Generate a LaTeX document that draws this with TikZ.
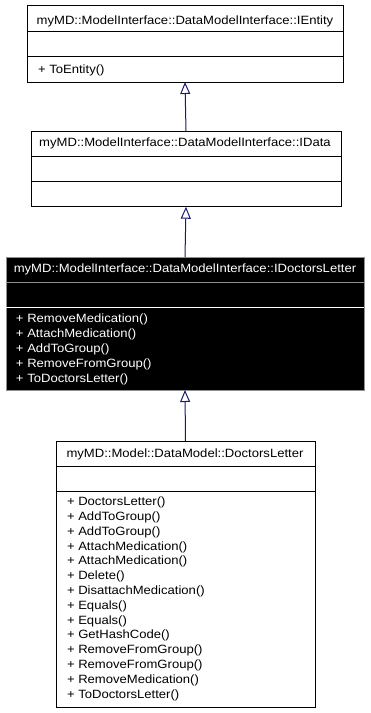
\documentclass[tikz,border=0pt]{standalone}
\usepackage{fontspec}
\newfontfamily\umlfont{Liberation Sans}[FakeStretch=1.09]
\usetikzlibrary{arrows.meta}
\definecolor{edgeblue}{HTML}{191970}
\definecolor{framegray}{HTML}{909090}
\begin{document}
\begin{tikzpicture}[x=1pt,y=-1pt,
  every node/.style={inner sep=0pt, outer sep=0pt},
  classbox/.style={draw=black, line width=1pt, fill=white, anchor=north west},
  activebox/.style={draw=framegray, line width=1pt, fill=black, anchor=north west},
  title/.style={anchor=base, font=\umlfont\fontsize{12}{14.8}\selectfont},
  ops/.style={anchor=base west, align=left, font=\umlfont\fontsize{12}{14.8}\selectfont},
  divider/.style={line width=1pt},
  inherit/.style={draw=edgeblue, line width=1pt,
    -{Triangle[open, length=12pt, width=10pt, fill=white]}}]
\useasboundingbox (0,0) rectangle (371,713);

% IEntity
\node[classbox, minimum width=316pt, minimum height=77pt] (e) at (27,5) {};
\draw[divider] (27,31.7) -- (343,31.7);
\draw[divider] (27,56.7) -- (343,56.7);
\node[title] (et) at (185,24.5) {myMD::ModelInterface::DataModelInterface::IEntity};
\node[ops] (eo) at (38,73.5) {+ ToEntity()};

% IData
\node[classbox, minimum width=310pt, minimum height=75pt] (d) at (31,131.7) {};
\draw[divider] (31,156.7) -- (341,156.7);
\draw[divider] (31,181.7) -- (341,181.7);
\node[title] (dt) at (185,146.5) {myMD::ModelInterface::DataModelInterface::IData};

% IDoctorsLetter
\node[activebox, minimum width=358pt, minimum height=133pt] (l) at (6,257) {};
\draw[divider, framegray] (6,282.3) -- (364,282.3);
\draw[divider, white] (6,307.3) -- (364,307.3);
\node[title, text=white] (lt) at (185,272.7) {myMD::ModelInterface::DataModelInterface::IDoctorsLetter};
\foreach \t [count=\i from 0] in {RemoveMedication(), AttachMedication(), AddToGroup(), RemoveFromGroup(), ToDoctorsLetter()}
  \node[ops, text=white] (lo\i) at (16,322.7+14.9*\i) {+ \t};

% DoctorsLetter
\node[classbox, minimum width=259pt, minimum height=266pt] (m) at (56,441) {};
\draw[divider] (56,466) -- (315,466);
\draw[divider] (56,491) -- (315,491);
\node[title] (mt) at (185,457.5) {myMD::Model::DataModel::DoctorsLetter};
\foreach \t [count=\i from 0] in {DoctorsLetter(), AddToGroup(), AddToGroup(), AttachMedication(), AttachMedication(), Delete(), DisattachMedication(), Equals(), Equals(), GetHashCode(), RemoveFromGroup(), RemoveFromGroup(), RemoveMedication(), ToDoctorsLetter()}
  \node[ops] (mo\i) at (67,505.7+14.8*\i) {+ \t};

% generalisation edges
\draw[inherit] (d.north) -- (e.south);
\draw[inherit] (l.north) -- (d.south);
\draw[inherit] (m.north) -- (l.south);
\end{tikzpicture}
\end{document}
